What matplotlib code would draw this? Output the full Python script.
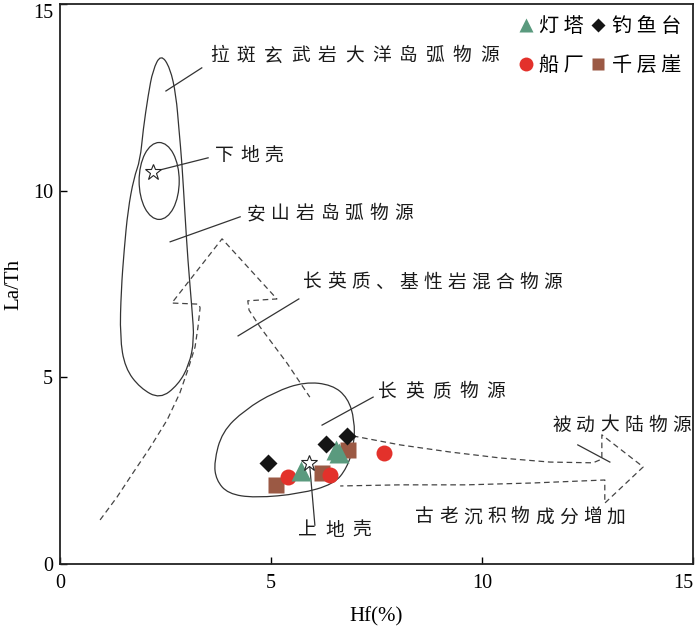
import numpy as np
import matplotlib
matplotlib.use('Agg')
import matplotlib.pyplot as plt
from matplotlib.path import Path
from matplotlib.patches import PathPatch, Ellipse
from matplotlib.lines import Line2D

plt.rcParams['font.family'] = ['Noto Sans CJK SC', 'DejaVu Sans']

# sample points, Hf vs La/Th
dengta_hf = [5.70, 6.54, 6.62]
dengta_lath = [2.50, 3.05, 2.97]
diaoyutai_hf = [4.92, 6.30, 6.79]
diaoyutai_lath = [2.71, 3.21, 3.43]
chuanchang_hf = [5.41, 6.40, 7.68]
chuanchang_lath = [2.34, 2.38, 2.97]
qiancengya_hf = [5.13, 6.20, 6.82]
qiancengya_lath = [2.12, 2.43, 3.05]

# reference compositions
upper_crust = (5.91, 2.71)
lower_crust = (2.21, 10.51)

# source fields (control points of the envelopes)
arc_x = [2.39, 2.61, 2.75, 2.82, 2.89, 2.96, 3.03, 3.13, 3.18, 3.06, 2.80, 2.37,
         1.90, 1.54, 1.42, 1.45, 1.52, 1.61, 1.75, 1.90, 1.97, 2.09, 2.20]
arc_y = [13.66, 13.29, 12.56, 11.63, 10.74, 9.40, 8.14, 6.80, 6.00, 5.33, 4.80, 4.42,
         4.71, 5.25, 6.08, 7.34, 8.41, 9.48, 10.34, 10.82, 11.63, 12.56, 13.23]
lc_center = (2.35, 10.26)
lc_width, lc_height = 0.95, 2.06
felsic_x = [3.65, 3.84, 4.38, 5.09, 5.80, 6.45, 6.82, 6.98, 6.97, 6.80, 6.49, 5.69, 4.62, 3.98, 3.70]
felsic_y = [2.73, 3.54, 4.13, 4.61, 4.88, 4.80, 4.45, 3.86, 3.19, 2.57, 2.14, 1.88, 1.77, 1.88, 2.25]

# dashed trend arrows
mix_arrow_x = [0.95, 1.35, 1.73, 2.13, 2.54, 2.84, 3.03, 3.20, 3.27, 3.32, 3.29, 2.65,
               3.84, 5.14, 4.45, 4.48, 4.74, 5.38, 5.92]
mix_arrow_y = [1.18, 1.79, 2.44, 3.11, 3.86, 4.58, 5.20, 5.81, 6.35, 6.86, 6.96, 6.99,
               8.71, 7.10, 7.05, 6.80, 6.35, 5.38, 4.47]
old_arrow_x = [6.94, 8.06, 9.24, 10.43, 11.61, 12.63, 12.84, 12.84, 13.82, 12.91, 12.91,
               11.21, 9.64, 8.06, 6.64]
old_arrow_y = [3.43, 3.19, 3.00, 2.84, 2.73, 2.71, 2.81, 3.46, 2.60, 1.63, 2.25,
               2.17, 2.12, 2.12, 2.09]

# labels: text, position, character pitch (px), leader line
labels = ['拉斑玄武岩大洋岛弧物源', '下地壳', '安山岩岛弧物源', '长英质、基性岩混合物源',
          '长英质物源', '被动大陆物源', '古老沉积物成分增加', '上地壳']
label_x = [3.55, 3.67, 4.43, 5.76, 7.54, 11.66, 8.41, 5.64]
label_y = [13.61, 10.93, 9.38, 7.55, 4.61, 3.72, 1.26, 0.91]
label_pitch = [27, 25, 24.5, 24, 27, 24, 24, 27]
leaders = [((2.51, 3.36), (12.67, 13.29)),
           ((2.21, 3.51), (10.51, 10.88)),
           ((2.61, 4.27), (8.63, 9.30)),
           ((4.22, 5.66), (6.11, 7.10)),
           ((6.21, 7.42), (3.72, 4.47)),
           ((12.27, 13.03), (3.19, 2.73)),
           ((5.92, 6.04), (2.60, 1.04))]


def smooth_closed(xs, ys):
    pts = np.column_stack([xs, ys])
    mids = (pts + np.roll(pts, -1, axis=0)) / 2
    verts = [mids[-1]]
    codes = [Path.MOVETO]
    for i in range(len(pts)):
        verts += [pts[i], mids[i]]
        codes += [Path.CURVE3, Path.CURVE3]
    return Path(verts, codes)


fig = plt.figure(figsize=(7.0, 6.27), dpi=100)
ax = fig.add_axes([0.0857, 0.1005, 0.9043, 0.8931])

line_col = '#333333'
ax.add_patch(PathPatch(smooth_closed(arc_x, arc_y), fill=False, ec=line_col, lw=0.9))
ax.add_patch(PathPatch(smooth_closed(felsic_x, felsic_y), fill=False, ec=line_col, lw=0.9))
ax.add_patch(Ellipse(lc_center, lc_width, lc_height, fill=False, ec=line_col, lw=0.9))

dash = (0, (4.5, 3))
ax.plot(mix_arrow_x, mix_arrow_y, color='#444444', lw=0.9, ls=dash)
ax.plot(old_arrow_x, old_arrow_y, color='#444444', lw=0.9, ls=dash)

for (lx, ly) in leaders:
    ax.plot(lx, ly, color=line_col, lw=0.9)

# letter-spaced labels, one character at a time
for t, x, y, p in zip(labels, label_x, label_y, label_pitch):
    for i, ch in enumerate(t):
        ax.annotate(ch, (x, y), xytext=(i * p * 0.72, 0), textcoords='offset points',
                    fontsize=13.5, ha='left', va='center', color='#1a1a1a')

# samples
ax.plot(qiancengya_hf, qiancengya_lath, 's', color='#9b5944', ms=12, mec='none', zorder=5)
ax.plot(chuanchang_hf, chuanchang_lath, 'o', color='#e3312b', ms=11.5, mec='none', zorder=5)
ax.plot(dengta_hf, dengta_lath, '^', color='#5a9a7e', ms=14, mec='none', zorder=6)
ax.plot(diaoyutai_hf, diaoyutai_lath, 'D', color='#151515', ms=9, mec='none', zorder=7)

ax.plot(*upper_crust, '*', mfc='white', mec='#222222', mew=0.8, ms=12, zorder=8)
ax.plot(*lower_crust, '*', mfc='white', mec='#222222', mew=0.8, ms=12, zorder=8)

handles = [Line2D([], [], ls='none', marker='^', color='#5a9a7e', ms=10, mec='none'),
           Line2D([], [], ls='none', marker='o', color='#e3312b', ms=10, mec='none'),
           Line2D([], [], ls='none', marker='D', color='#151515', ms=7, mec='none'),
           Line2D([], [], ls='none', marker='s', color='#9b5944', ms=9, mec='none')]
names = ['灯 塔', '船 厂', '钓 鱼 台', '千 层 崖']
ax.legend(handles, names, ncol=2, loc='upper right', bbox_to_anchor=(1.0, 1.0),
          frameon=False, fontsize=14.5, handlelength=0.8, handletextpad=0.25,
          columnspacing=0.35, labelspacing=0.9, borderaxespad=0.2)

ax.set_xlim(0, 15)
ax.set_ylim(0, 15)
ax.set_xticks([0, 5, 10, 15])
ax.set_yticks([0, 5, 10, 15])
ax.tick_params(direction='in', length=5, width=1, top=False, right=False,
               labelsize=14.5, labelfontfamily='Liberation Serif')
ax.tick_params(axis='x', pad=7)
ax.tick_params(axis='y', pad=5)
ax.get_yticklabels()[-1].set_va('top')
ax.get_xticklabels()[-1].set_ha('right')
for sp in ax.spines.values():
    sp.set_linewidth(1.3)
    sp.set_color('#222222')

ax.set_xlabel('Hf(%)', fontsize=15, family='Liberation Serif', labelpad=10)
ax.set_ylabel('La/Th', fontsize=15, family='Liberation Serif', labelpad=7)

fig.savefig('out.png', dpi=100)
